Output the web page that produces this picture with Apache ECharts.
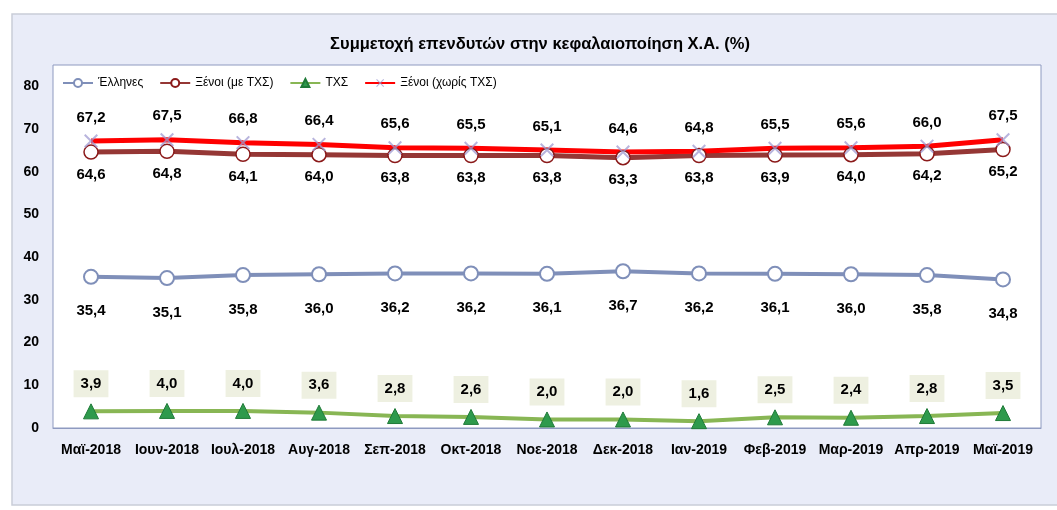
<!DOCTYPE html>
<html>
<head>
<meta charset="utf-8">
<script src="https://cdn.jsdelivr.net/npm/echarts@6/dist/echarts.min.js"></script>
<style>
  html, body { margin: 0; padding: 0; background: #ffffff; }
  #chart { width: 1057px; height: 510px; }
</style>
</head>
<body>
<div id="chart"></div>
<script>
const months = ['Μαϊ-2018', 'Ιουν-2018', 'Ιουλ-2018', 'Αυγ-2018', 'Σεπ-2018', 'Οκτ-2018', 'Νοε-2018',
  'Δεκ-2018', 'Ιαν-2019', 'Φεβ-2019', 'Μαρ-2019', 'Απρ-2019', 'Μαϊ-2019'];
const greeks = [35.4, 35.1, 35.8, 36.0, 36.2, 36.2, 36.1, 36.7, 36.2, 36.1, 36.0, 35.8, 34.8];
const foreignWithHfsf = [64.6, 64.8, 64.1, 64.0, 63.8, 63.8, 63.8, 63.3, 63.8, 63.9, 64.0, 64.2, 65.2];
const hfsf = [3.9, 4.0, 4.0, 3.6, 2.8, 2.6, 2.0, 2.0, 1.6, 2.5, 2.4, 2.8, 3.5];
const foreignNoHfsf = [67.2, 67.5, 66.8, 66.4, 65.6, 65.5, 65.1, 64.6, 64.8, 65.5, 65.6, 66.0, 67.5];
const yTicks = [0, 10, 20, 30, 40, 50, 60, 70, 80];

const sans = '"Liberation Sans", Arial, sans-serif';
const comma = (p) => p.value.toFixed(1).replace('.', ',');
const dataLabel = {
  show: true,
  formatter: comma,
  color: '#000000',
  fontFamily: sans,
  fontWeight: 'bold',
  fontSize: 15
};
// x-shaped marker, like the excel cross
const crossPath = 'path://M0,1L1,0L5,4L9,0L10,1L6,5L10,9L9,10L5,6L1,10L0,9L4,5Z';

const chart = echarts.init(document.getElementById('chart'));

chart.setOption({
  animation: false,
  backgroundColor: '#ffffff',
  graphic: [{
    type: 'rect',
    z: -10,
    shape: { x: 12, y: 14, width: 1060, height: 491 },
    style: { fill: '#e9ecf8', stroke: '#c9cdd8', lineWidth: 1.5 }
  }],
  title: {
    text: 'Συμμετοχή επενδυτών στην κεφαλαιοποίηση Χ.Α. (%)',
    left: 535,
    textAlign: 'center',
    top: 31,
    textStyle: { fontFamily: sans, fontWeight: 'bold', fontSize: 16.5, color: '#000000' }
  },
  legend: {
    left: 57,
    top: 72,
    itemWidth: 30,
    itemHeight: 10,
    itemGap: 16,
    textStyle: { fontFamily: sans, fontSize: 12, color: '#000000' },
    data: ['Έλληνες', 'Ξένοι (με ΤΧΣ)', 'ΤΧΣ', 'Ξένοι (χωρίς ΤΧΣ)']
  },
  grid: {
    left: 53,
    right: 16,
    top: 65,
    bottom: 82,
    show: true,
    backgroundColor: '#ffffff',
    borderColor: '#8e9ac0',
    borderWidth: 1
  },
  xAxis: {
    type: 'category',
    data: months,
    axisLine: { lineStyle: { color: '#8e9ac0' } },
    axisTick: { show: false },
    axisLabel: {
      color: '#000000',
      fontFamily: sans,
      fontWeight: 'bold',
      fontSize: 14,
      margin: 15,
      interval: 0
    }
  },
  yAxis: {
    type: 'value',
    min: 0,
    max: 85,
    interval: 10,
    splitLine: { show: false },
    axisLine: { show: false },
    axisTick: { show: false },
    axisLabel: {
      color: '#000000',
      fontFamily: sans,
      fontWeight: 'bold',
      fontSize: 14,
      margin: 14,
      formatter: (v) => (yTicks.includes(v) ? String(v) : '')
    }
  },
  series: [
    {
      name: 'Έλληνες',
      type: 'line',
      data: greeks,
      lineStyle: { color: '#7f8fb9', width: 4 },
      itemStyle: { color: '#ffffff', borderColor: '#7f8fb9', borderWidth: 2 },
      symbol: 'circle',
      symbolSize: 14,
      label: Object.assign({}, dataLabel, { position: 'bottom', distance: 19 })
    },
    {
      name: 'Ξένοι (με ΤΧΣ)',
      type: 'line',
      data: foreignWithHfsf,
      lineStyle: { color: '#953735', width: 5 },
      itemStyle: { color: '#ffffff', borderColor: '#8b1a1a', borderWidth: 1.5 },
      symbol: 'circle',
      symbolSize: 14,
      label: Object.assign({}, dataLabel, { position: 'bottom', distance: 7 })
    },
    {
      name: 'ΤΧΣ',
      type: 'line',
      data: hfsf,
      lineStyle: { color: '#88b654', width: 4 },
      itemStyle: { color: '#2e9a4c', borderColor: '#1f7a38', borderWidth: 1 },
      symbol: 'triangle',
      symbolSize: 15,
      label: Object.assign({}, dataLabel, {
        position: 'top',
        distance: 6,
        backgroundColor: '#eef0e1',
        padding: [6, 7]
      })
    },
    {
      name: 'Ξένοι (χωρίς ΤΧΣ)',
      type: 'line',
      data: foreignNoHfsf,
      lineStyle: { color: '#ff0000', width: 5 },
      itemStyle: { color: 'rgba(160,155,210,0.75)' },
      symbol: crossPath,
      symbolSize: 14,
      label: Object.assign({}, dataLabel, { position: 'top', distance: 9 })
    }
  ]
});
</script>
</body>
</html>
